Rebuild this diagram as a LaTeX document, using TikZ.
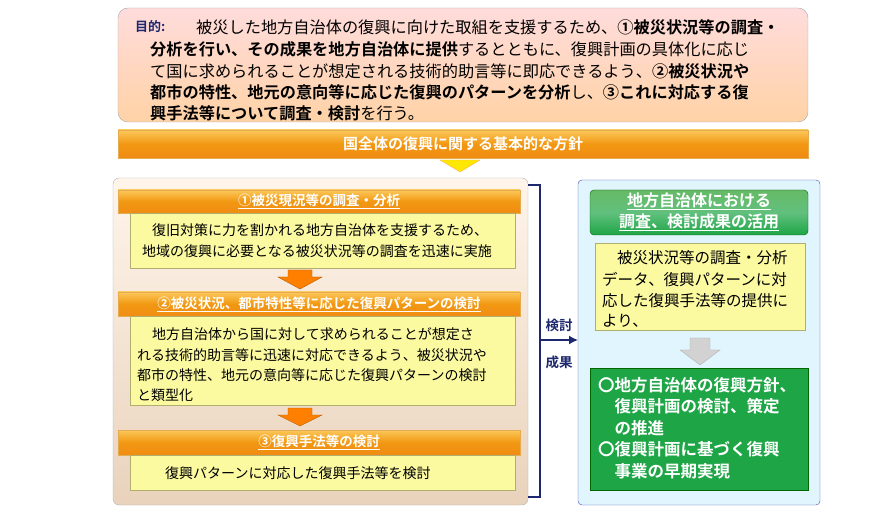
\documentclass[tikz,border=0pt]{standalone}
\usepackage{fontspec}
\setmainfont{Noto Sans CJK JP}[BoldFont={Noto Sans CJK JP Bold}]
\usetikzlibrary{arrows.meta}
\definecolor{navy}{RGB}{30,40,110}
\definecolor{org}{RGB}{240,140,20}
\definecolor{orgL}{RGB}{252,200,90}
\definecolor{yel}{RGB}{252,250,160}
\definecolor{grn}{RGB}{30,165,70}
\begin{document}
\begin{tikzpicture}[x=1pt,y=-1pt,
 hdr/.style={draw=orgL!60!brown,top color=orgL,bottom color=org,middle color=org!90!yellow},
 ybox/.style={draw=yel!70!black,fill=yel},
 txt/.style={anchor=west,inner sep=0pt,font=\fontsize{14}{16}\selectfont},
 rtx/.style={anchor=west,inner sep=0pt,font=\fontsize{15.5}{17}\selectfont},
 ttx/.style={anchor=west,inner sep=0pt,font=\fontsize{16.2}{18}\selectfont},
 wt/.style={text=white,font=\bfseries\fontsize{13.5}{15}\selectfont,inner sep=0pt}]
\useasboundingbox (0,0) rectangle (894,510);
% top box
\shade[draw=gray!70,rounded corners=10pt,top color=pink!55,bottom color=orange!35] (118,8) rectangle (808,122);
\node[ttx,font=\bfseries\fontsize{13}{15}\selectfont,text=navy] (mk) at (135,27) {目的:};
\node[ttx] (l1) at (196,27) {被災した地方自治体の復興に向けた取組を支援するため、\textbf{①被災状況等の調査・}};
\node[ttx] (l2) at (150,49) {\textbf{分析を行い、その成果を地方自治体に提供}するとともに、復興計画の具体化に応じ};
\node[ttx] (l3) at (150,71) {て国に求められることが想定される技術的助言等に即応できるよう、\textbf{②被災状況や}};
\node[ttx] (l4) at (150,92) {\textbf{都市の特性、地元の意向等に応じた復興のパターンを分析}し、\textbf{③これに対応する復}};
\node[ttx] (l5) at (150,113) {\textbf{興手法等について調査・検討}を行う。};
% banner
\shade[hdr] (118,130) rectangle (808,158);
\node[wt,font=\bfseries\fontsize{15}{17}\selectfont] (ban) at (463,144) {国全体の復興に関する基本的な方針};
\fill[yellow!90!orange,draw=orange!60] (440,160) -- (480,160) -- (460,172) -- cycle;
% left panel
\shade[draw=gray!60,rounded corners=6pt,top color=orange!8,bottom color=brown!35] (113,178) rectangle (528,505);
\shade[hdr] (118,190) rectangle (520,213);
\node[wt] (h1) at (319,201) {\underline{①被災現況等の調査・分析}};
\draw[ybox] (130,213) rectangle (515,268);
\node[txt] (t1a) at (152,230) {復旧対策に力を割かれる地方自治体を支援するため、};
\node[txt] (t1b) at (142,251) {地域の復興に必要となる被災状況等の調査を迅速に実施};
\fill[orange,draw=orange!70!black] (288,270) -- (312,270) -- (312,277) -- (322,277) -- (300,289) -- (278,277) -- (288,277) -- cycle;
\shade[hdr] (118,292) rectangle (520,316);
\node[wt] (h2) at (319,304) {\underline{②被災状況、都市特性等に応じた復興パターンの検討}};
\draw[ybox] (130,316) rectangle (515,405);
\node[txt] (t2a) at (152,334) {地方自治体から国に対して求められることが想定さ};
\node[txt] (t2b) at (137,355) {れる技術的助言等に迅速に対応できるよう、被災状況や};
\node[txt] (t2c) at (137,375) {都市の特性、地元の意向等に応じた復興パターンの検討};
\node[txt] (t2d) at (137,395) {と類型化};
\fill[orange,draw=orange!70!black] (288,408) -- (312,408) -- (312,415) -- (322,415) -- (300,426) -- (278,415) -- (288,415) -- cycle;
\shade[hdr] (118,430) rectangle (520,455);
\node[wt] (h3) at (319,442) {\underline{③復興手法等の検討}};
\draw[ybox] (130,455) rectangle (515,490);
\node[txt] (t3) at (165,473) {復興パターンに対応した復興手法等を検討};
% bracket
\coordinate (ba) at (528,185); \coordinate (bb) at (540,185);
\coordinate (bc) at (540,497); \coordinate (bd) at (528,497);
\draw[navy,line width=1.5pt] (ba) -- (bb) -- (bc) -- (bd);
\coordinate (as) at (540,340); \coordinate (ae) at (578,340);
\draw[navy,line width=1.5pt,-{Latex[length=9pt,width=9pt]}] (as) -- (ae);
\node[font=\bfseries\fontsize{13.5}{15}\selectfont,text=navy] (k1) at (559,325) {検討};
\node[font=\bfseries\fontsize{13.5}{15}\selectfont,text=navy] (k2) at (559,362) {成果};
% right panel
\draw[draw=blue!40!gray,fill=cyan!12,rounded corners=4pt] (578,180) rectangle (820,505);
\shade[draw=green!40!black,rounded corners=4pt,top color=green!55!black!60,bottom color=grn,middle color=grn!70!white] (590,190) rectangle (808,235);
\node[wt,align=center,font=\bfseries\fontsize{16}{21}\selectfont] (gh) at (699,212) {\underline{地方自治体における}\\\underline{調査、検討成果の活用}};
\draw[ybox] (595,243) rectangle (805,330);
\node[rtx] (r1) at (617,258) {被災状況等の調査・分析};
\node[rtx] (r2) at (602,280) {データ、復興パターンに対};
\node[rtx] (r3) at (602,301) {応した復興手法等の提供に};
\node[rtx] (r4) at (602,321) {より、};
\fill[gray!35,draw=gray!60] (690,338) -- (710,338) -- (710,350) -- (720,350) -- (700,365) -- (680,350) -- (690,350) -- cycle;
\draw[fill=grn,draw=green!40!black] (590,368) rectangle (808,490);
\node[wt,anchor=west,align=left,font=\bfseries\fontsize{16.5}{21.5}\selectfont] (gb) at (598,428) {〇地方自治体の復興方針、\\\hspace{1em}復興計画の検討、策定\\\hspace{1em}の推進\\〇復興計画に基づく復興\\\hspace{1em}事業の早期実現};
\end{tikzpicture}
\end{document}
